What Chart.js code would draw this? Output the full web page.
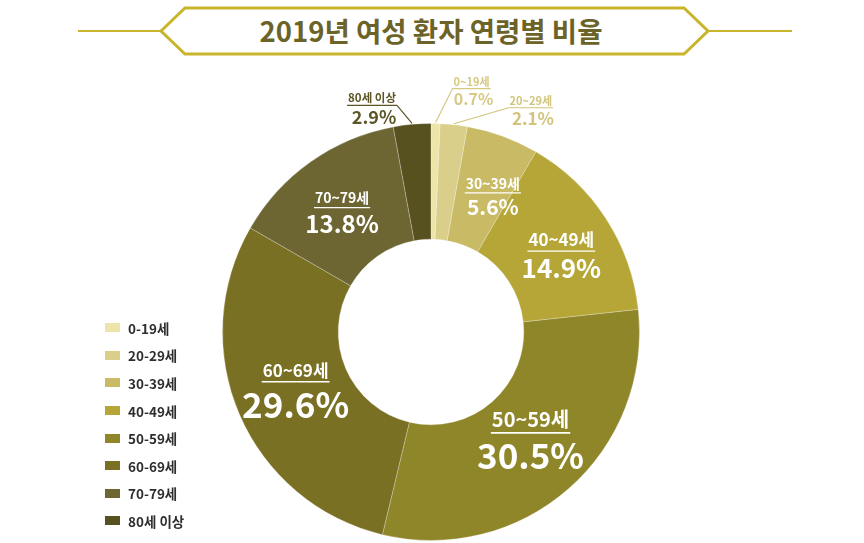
<!DOCTYPE html>
<html><head><meta charset="utf-8">
<script src="https://cdn.jsdelivr.net/npm/chart.js@4/dist/chart.umd.min.js"></script>
<style>
html,body{margin:0;padding:0;background:#fff;}
#wrap{position:relative;width:864px;height:543px;overflow:hidden;font-family:"Noto Sans CJK KR","Noto Sans",sans-serif;}
#c{position:absolute;left:0;top:0;}
#title{position:absolute;left:0;top:0;}
#legend{position:absolute;left:105px;top:314px;}
.li{display:flex;align-items:center;height:27.6px;font-weight:700;font-size:13.5px;color:#2e2e2e;}
.sw{width:15px;height:9px;margin-right:8px;}
</style></head>
<body><div id="wrap">
<svg id="title" width="864" height="70">
<line x1="78" y1="31" x2="792" y2="31" stroke="#c9b52b" stroke-width="2"/>
<polygon points="161,31 185,8 684,8 708,31 684,54 185,54" fill="#fff" stroke="#c9b52b" stroke-width="3"/>
<text x="431" y="42" text-anchor="middle" font-family="Noto Sans CJK KR" font-weight="700" font-size="27.5" fill="#6b6327">2019년 여성 환자 연령별 비율</text>
</svg>
<canvas id="c" width="864" height="543"></canvas>
<div id="legend"></div>
</div>
<script>
// ---- data ----
const categories = ['0-19세','20-29세','30-39세','40-49세','50-59세','60-69세','70-79세','80세 이상'];
const sliceLabels = ['0~19세','20~29세','30~39세','40~49세','50~59세','60~69세','70~79세','80세 이상'];
const values = [0.7, 2.1, 5.6, 14.9, 30.5, 29.6, 13.8, 2.9];
const colors = ['#ece4a8','#d9ce8a','#c9bb66','#b5a637','#8f8529','#7a7023','#6d6632','#57511f'];

// ---- label styles (sizes/offsets, not data) ----
const insideStyle = {2:{l:14,p:21,dx:10,dy:6},3:{l:17,p:26,dx:4,dy:6},4:{l:20,p:35,dx:0,dy:-4},5:{l:17,p:35,dx:3,dy:0},6:{l:14,p:24,dx:-2,dy:4}};
const outsideStyle = {
  0:{l:11,p:16,dx:36,dy:-38,side:'left',color:'#d6c983'},
  1:{l:11,p:17,dx:77,dy:-20,side:'left',color:'#d2c47b'},
  7:{l:11.5,p:18,dx:-40,dy:-22,side:'right',color:'#5c5526'}
};

const leg = document.getElementById('legend');
categories.forEach((c,i)=>{
  const d=document.createElement('div');d.className='li';
  d.innerHTML='<span class="sw" style="background:'+colors[i]+'"></span><span>'+c+'</span>';
  leg.appendChild(d);
});

const fam = '"Noto Sans CJK KR","Noto Sans",sans-serif';
const labelPlugin = {
  id:'sliceLabels',
  afterDatasetsDraw(chart){
    const ctx = chart.ctx;
    const meta = chart.getDatasetMeta(0);
    meta.data.forEach((arc,i)=>{
      const pct = values[i].toFixed(1)+'%';
      if (insideStyle[i]) {
        const s = insideStyle[i];
        const c = arc.getCenterPoint();
        const cx = c.x + s.dx, cy = c.y + s.dy;
        const H = 1.05*s.l + 1.1*s.p;
        const top = cy - H/2;
        const lb = top + 0.78*s.l;
        ctx.save();
        ctx.fillStyle = '#fff'; ctx.strokeStyle='#fff';
        ctx.textAlign='center'; ctx.textBaseline='alphabetic';
        ctx.font = '700 '+s.l+'px '+fam;
        ctx.fillText(sliceLabels[i], cx, lb);
        const w = ctx.measureText(sliceLabels[i]).width;
        const uy = lb + 0.3*s.l;
        ctx.lineWidth = Math.max(1.2, s.l/12);
        ctx.beginPath(); ctx.moveTo(cx-w/2-1, uy); ctx.lineTo(cx+w/2+1, uy); ctx.stroke();
        ctx.font = '700 '+s.p+'px '+fam;
        ctx.fillText(pct, cx, uy + 0.3*s.p + 0.74*s.p);
        ctx.restore();
      } else if (outsideStyle[i]) {
        const s = outsideStyle[i];
        const mid = (arc.startAngle + arc.endAngle)/2;
        const ax = arc.x + Math.cos(mid)*arc.outerRadius;
        const ay = arc.y + Math.sin(mid)*arc.outerRadius;
        const cx = ax + s.dx, lb = ay + s.dy;
        ctx.save();
        ctx.fillStyle = s.color; ctx.strokeStyle = s.color;
        ctx.textAlign='center'; ctx.textBaseline='alphabetic';
        ctx.font = '700 '+s.l+'px '+fam;
        ctx.fillText(sliceLabels[i], cx, lb);
        const w = ctx.measureText(sliceLabels[i]).width;
        const uy = lb + 3;
        ctx.lineWidth = 1.2;
        ctx.beginPath();
        ctx.moveTo(cx-w/2-1, uy); ctx.lineTo(cx+w/2+1, uy);
        const ex = s.side==='left' ? cx-w/2-1 : cx+w/2+1;
        ctx.moveTo(ex, uy); ctx.lineTo(ax, ay-1);
        ctx.stroke();
        ctx.font = '700 '+s.p+'px '+fam;
        ctx.fillText(pct, cx+2, uy + 0.3*s.p + 0.74*s.p);
        ctx.restore();
      }
    });
  }
};

new Chart(document.getElementById('c'), {
  type:'doughnut',
  data:{labels:categories, datasets:[{data:values, backgroundColor:colors, borderColor:'rgba(255,255,255,0.25)', borderWidth:1}]},
  options:{
    responsive:false, animation:false, cutout:'44.5%',
    layout:{padding:{left:222,right:224,top:123,bottom:2}},
    plugins:{legend:{display:false}, tooltip:{enabled:false}}
  },
  plugins:[labelPlugin]
});
</script>
</body></html>
